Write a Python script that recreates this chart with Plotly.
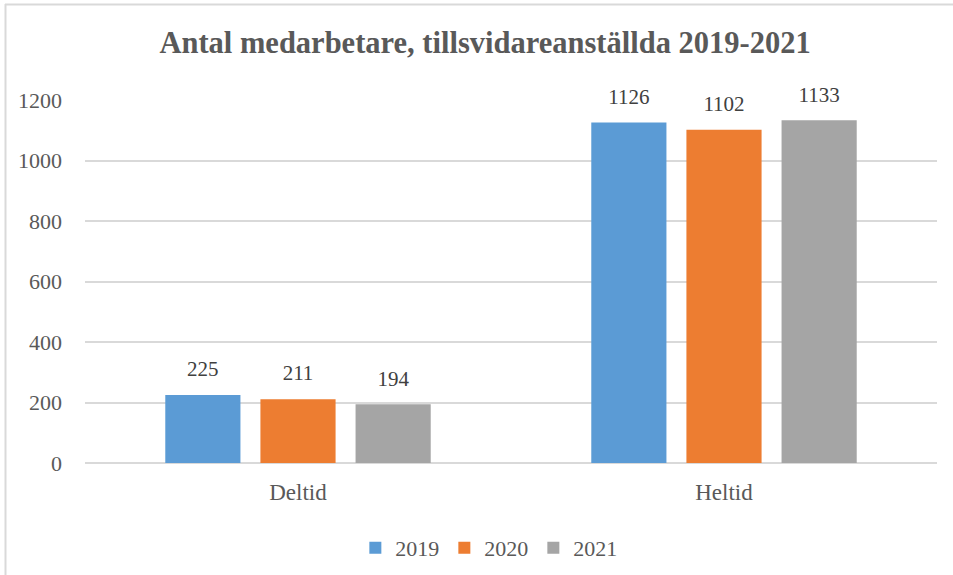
import plotly.graph_objects as go

categories = ["Deltid", "Heltid"]
years = ["2019", "2020", "2021"]
values_2019 = [225, 1126]
values_2020 = [211, 1102]
values_2021 = [194, 1133]
colors = ["#5B9BD5", "#ED7D31", "#A5A5A5"]
tick_vals = [0, 200, 400, 600, 800, 1000, 1200]

FONT = "Liberation Serif"
TXT = "#595959"

fig = go.Figure()
series = [values_2019, values_2020, values_2021]
for name, vals, col in zip(years, series, colors):
    fig.add_trace(go.Bar(
        x=categories, y=vals, name=name, marker=dict(color=col, line=dict(width=0)),
    ))
# value labels, grouped like the bars, lifted above the bar tops
for name, vals in zip(years, series):
    fig.add_trace(go.Scatter(
        x=categories, y=vals, mode="markers+text", showlegend=False, hoverinfo="skip",
        marker=dict(size=20, opacity=0), text=[str(v) for v in vals],
        textposition="top center", cliponaxis=False,
        textfont=dict(family=FONT, size=21, color="#404040"),
    ))

fig.update_layout(
    width=953, height=575,
    margin=dict(l=85, r=16, t=100, b=112, autoexpand=False),
    paper_bgcolor="white", plot_bgcolor="white",
    barmode="group", bargap=0.33, bargroupgap=0.21,
    scattermode="group", scattergap=0.33,
    title=dict(text="<b>Antal medarbetare, tillsvidareanställda 2019-2021</b>",
               x=0.509, xanchor="center", y=0.927, yanchor="middle",
               font=dict(family=FONT, size=30.5, color=TXT)),
    font=dict(family=FONT, color=TXT),
    legend=dict(orientation="h", x=0.474, xanchor="center", y=-0.234, yanchor="middle",
                font=dict(family=FONT, size=22, color=TXT), traceorder="normal",
                itemwidth=30),
    showlegend=True,
)
fig.update_yaxes(range=[0, 1200], tickvals=tick_vals, showgrid=True, automargin=False,
                 gridcolor="#D9D9D9", gridwidth=1.5, zeroline=True, zerolinecolor="#D9D9D9",
                 zerolinewidth=1.5, showline=False, ticklabelstandoff=22,
                 tickfont=dict(family=FONT, size=22, color=TXT))
fig.update_xaxes(showgrid=False, showline=False, ticklabelstandoff=13, automargin=False,
                 tickfont=dict(family=FONT, size=23, color=TXT))

# outer frame (top and left edges visible in reference)
fig.add_shape(type="line", xref="paper", yref="paper",
              x0=(5 - 85) / 852, x1=(953 - 85) / 852, y0=(463 - 4.5) / 363, y1=(463 - 4.5) / 363,
              line=dict(color="#D9D9D9", width=2))
fig.add_shape(type="line", xref="paper", yref="paper",
              x0=(5.5 - 85) / 852, x1=(5.5 - 85) / 852, y0=(463 - 4) / 363, y1=(463 - 580) / 363,
              line=dict(color="#D9D9D9", width=2))

fig.write_html("out.html")
